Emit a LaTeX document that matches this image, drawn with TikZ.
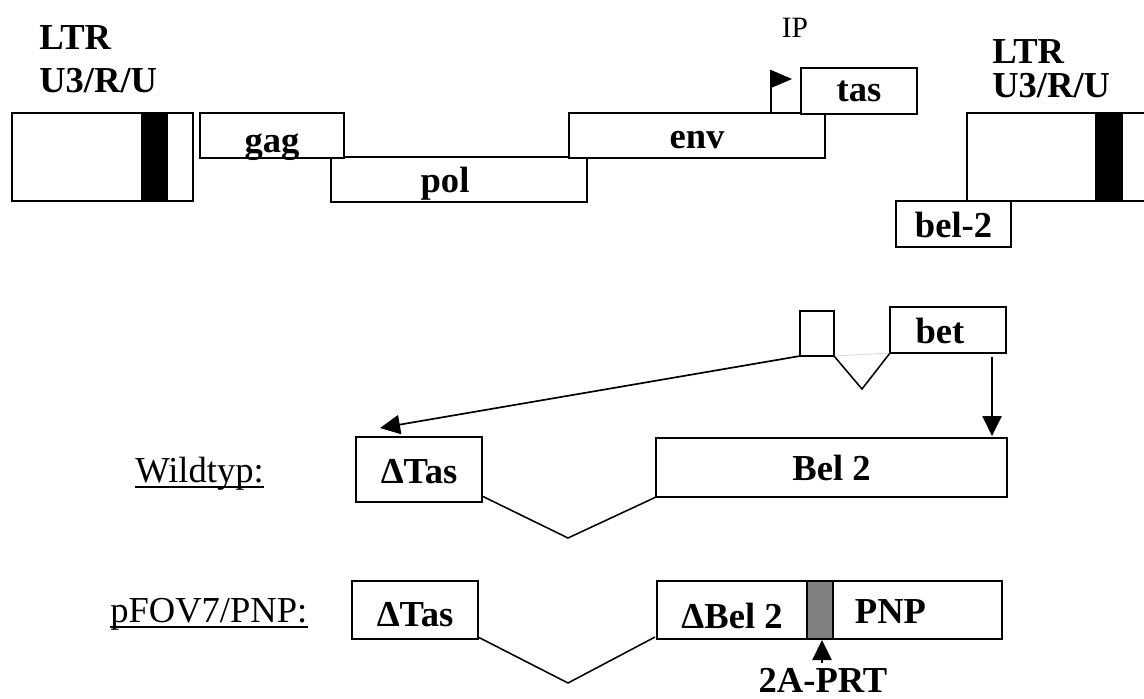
\documentclass[tikz,border=0pt]{standalone}
\usepackage{fontspec}
\setmainfont{Liberation Serif}
\usetikzlibrary{arrows.meta,calc}
\newcommand{\genefont}{\fontsize{26}{30}\selectfont\bfseries}
\newcommand{\plainfont}{\fontsize{26}{30}\selectfont}

\begin{document}
\begin{tikzpicture}[x=0.025cm,y=-0.025cm,
  box/.style={draw,fill=white,line width=1.3pt,inner sep=0pt,outer sep=0pt,anchor=north west,font=\genefont,text height=0.65cm,text depth=0pt},
  bar/.style={draw,fill=black,line width=1.3pt,inner sep=0pt,outer sep=0pt,anchor=north west},
  lbl/.style={font=\genefont,inner sep=0pt,anchor=base west},
  arr/.style={line width=1.2pt,-{Triangle[length=0.5cm,width=0.48cm]}},
  splice/.style={line width=1.1pt}]
  \useasboundingbox (0,0) rectangle (1144,698);
  % provirus
  \node[box,minimum width=4.525cm,minimum height=2.2cm] (ltrL) at (12,113) {};
  \node[bar,minimum width=0.625cm,minimum height=2.2cm] (ltrLbar) at (142,113) {};
  \node[box,minimum width=6.4cm,minimum height=1.125cm] (pol) at (331,157) {pol\hspace*{0.7cm}};
  \node[box,minimum width=3.6cm,minimum height=1.125cm,text height=0.83cm] (gag) at (200,113) {gag};
  \node[box,minimum width=6.4cm,minimum height=1.125cm] (env) at (569,113) {env};
  \coordinate (ipfoot) at ($(env.north west)+(202,0)$); \coordinate (iptop) at ($(ipfoot)+(0,-43)$);
  \draw[line width=1.3pt] (ipfoot) -- (iptop);
  \fill (iptop) -- ++(21,9) -- ++(-21,9) -- cycle;
  \node[box,minimum width=2.9cm,minimum height=1.15cm,text height=0.5cm] (tas) at (801,68) {tas};
  \node[font=\fontsize{21}{24}\selectfont,inner sep=0pt] (ip) at (795,28) {IP};
  \node[box,minimum width=4.6cm,minimum height=2.2cm] (ltrR) at (967,113) {};
  \node[bar,minimum width=0.65cm,minimum height=2.2cm] (ltrRbar) at (1096,113) {};
  \node[box,minimum width=2.875cm,minimum height=1.15cm] (bel) at (896,201) {bel-2};
  \node[lbl] (ltrLa) at (39,49) {LTR}; \node[lbl] (ltrLb) at (39,92) {U3/R/U};
  \node[lbl] (ltrRa) at (992,63) {LTR}; \node[lbl] (ltrRb) at (992,97) {U3/R/U};
  % bet transcript
  \node[box,minimum width=0.85cm,minimum height=1.125cm] (ex1) at (800,311) {};
  \node[box,minimum width=2.9cm,minimum height=1.15cm] (bet) at (890,307) {bet\hspace*{0.4cm}};
  \draw[gray!30,line width=0.6pt] (ex1.south east) -- (bet.south west);
  \draw[splice] (ex1.south east) -- (862,389) -- (bet.south west);
  % Wildtyp
  \node[font=\plainfont,inner sep=0pt,anchor=base west] (wt) at (135,482) {Wildtyp:};
  \draw[line width=1.1pt] ($(wt.base west)+(0,5)$) -- ($(wt.base east)+(0,5)$);
  \node[box,minimum width=3.15cm,minimum height=1.625cm,text height=0.7cm] (tasW) at (356,437) {ΔTas};
  \node[box,minimum width=8.775cm,minimum height=1.475cm] (belW) at (656,438) {Bel 2};
  \draw[splice] ($(tasW.south east)+(0,-6)$) -- (568,538) -- (belW.south west);
  \coordinate (tipW) at (380,428);
  \draw[arr] (ex1.south west) -- (tipW);
  \coordinate (betdrop) at ($(bet.south east)+(-14,4)$);
  \draw[arr] (betdrop) -- ($(betdrop |- belW.north)+(0,-2)$);
  % pFOV7/PNP
  \node[font=\plainfont,inner sep=0pt,anchor=base west] (pf) at (110,622) {pFOV7/PNP:};
  \draw[line width=1.1pt] ($(pf.base west)+(0,5)$) -- ($(pf.base east)+(0,5)$);
  \node[box,minimum width=3.15cm,minimum height=1.45cm,text height=0.8cm] (tasP) at (352,581) {ΔTas};
  \node[box,minimum width=3.75cm,minimum height=1.45cm,text height=0.9cm] (belP) at (657,581) {ΔBel 2};
  \node[bar,fill=gray,minimum width=0.65cm,minimum height=1.45cm] (linker) at (807,581) {};
  \node[box,minimum width=4.225cm,minimum height=1.45cm] (pnp) at (833,581) {PNP\hspace*{1.35cm}};
  \draw[splice] ($(tasP.south east)+(0,-2)$) -- (568,683) -- ($(belP.south west)+(-2,-2)$);
  \draw[arr] ($(linker.south)+(2,24)$) -- ($(linker.south)+(2,1)$);
  \node[lbl,anchor=base] (prt) at (823,692) {2A-PRT};
\end{tikzpicture}
\end{document}
